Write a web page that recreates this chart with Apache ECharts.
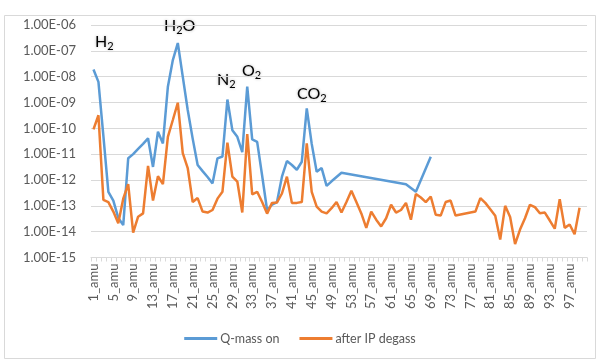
<!DOCTYPE html>
<html><head><meta charset="utf-8">
<script src="https://cdn.jsdelivr.net/npm/echarts@6/dist/echarts.min.js"></script>
<style>html,body{margin:0;padding:0;background:#fff}#c{width:600px;height:362px}</style>
</head><body><div id="c"></div>
<script>
// categories 1_amu .. 100_amu
const categories = [];
for (let i = 1; i <= 100; i++) categories.push(i + '_amu');

// Q-mass on (amu 1..100), null = no point
const qmassOn = [
 1.9e-8, 6.3e-9, 5e-11, 3.5e-13, 1.6e-13, 3.4e-14, 1.8e-14, 6.9e-12, 1e-11, 1.6e-11,
 2.5e-11, 4.1e-11, 3.2e-12, 7.4e-11, 2.6e-11, 4.1e-9, 4.4e-8, 2.0e-7, 1e-8, 5.1e-10,
 4e-11, 3.8e-12, 2.2e-12, 1.3e-12, 7.4e-13, 6.9e-12, 8.1e-12, 1.3e-9, 8.5e-11, 4.7e-11,
 1.2e-11, 4.1e-9, 3.7e-11, 3.0e-11, 1.5e-12, 6.9e-14, 1.1e-13, 1.4e-13, 1.35e-12, 5.4e-12,
 3.8e-12, 2.5e-12, 5.1e-12, 5.9e-10, 2.5e-11, 2.1e-12, 2.9e-12, 5.9e-13, 8.9e-13, 1.3e-12,
 1.9e-12, null, null, null, null, null, null, null, null, null,
 null, null, null, 6.9e-13, null, 3.5e-13, null, null, 7.9e-12, null,
 null, null, null, null, null, null, null, null, null, null,
 null, null, null, null, null, null, null, null, null, null,
 null, null, null, null, null, null, null, null, null, null
];

// after IP degass (amu 1..100)
const afterDegass = [
 9.1e-11, 3.2e-10, 1.7e-13, 1.4e-13, 6e-14, 2.1e-14, 1.9e-13, 6.9e-13, 9.1e-15, 3.8e-14,
 5.1e-14, 3.5e-12, 1.6e-13, 1.4e-12, 6.9e-13, 4.7e-11, 2.1e-10, 9.8e-10, 1.1e-11, 2.9e-12,
 1.4e-13, 2e-13, 6e-14, 5.5e-14, 6.9e-14, 1.9e-13, 3.5e-13, 2.8e-11, 1.35e-12, 8.7e-13,
 5.5e-14, 6e-11, 2.8e-13, 3.5e-13, 1.4e-13, 5e-14, 1.3e-13, 1.35e-13, 3e-13, 1.35e-12,
 1.3e-13, 1.3e-13, 1.4e-13, 2.6e-11, 3.5e-13, 9.3e-14, 6e-14, 5.1e-14, 8.1e-14, 1.4e-13,
 5.5e-14, 1.4e-13, 3.8e-13, 1.4e-13, 5.1e-14, 1.4e-14, 6e-14, 2.9e-14, 1.6e-14, 3.3e-14,
 1.1e-13, 5.5e-14, 6.9e-14, 1.3e-13, 2.9e-14, 2.9e-13, 2.1e-13, 1.4e-13, 2.3e-13, 4.5e-14,
 4.2e-14, 1.4e-13, 1.6e-13, 4.2e-14, null, null, null, 6e-14, 2e-13, 1.3e-13,
 7.4e-14, 4.1e-14, 5e-15, 1e-13, 3.7e-14, 3.3e-15, 1.2e-14, 3.3e-14, 1.1e-13, 8.9e-14,
 5.2e-14, 5.5e-14, 2.7e-14, 1.3e-14, 1.8e-13, 1.4e-14, 1.9e-14, 7.9e-15, 8.5e-14, null
];

const seriesNames = ['Q-mass on', 'after IP degass'];
const yMin = 1e-15, yMax = 1e-6;

function fmtExp(v) {
  const e = Math.round(Math.log10(v));
  const s = e < 0 ? '-' : '+';
  const a = Math.abs(e);
  return '1.00E' + s + (a < 10 ? '0' + a : a);
}

const chart = echarts.init(document.getElementById('c'), null, {renderer: 'canvas'});
const txtFont = 'Lato, "Open Sans", sans-serif';
const rich = {
  b: {fontSize: 16, fontFamily: txtFont, color: '#000', textShadowColor: 'rgba(0,0,0,0.3)', textShadowBlur: 3},
  s: {fontSize: 11, fontFamily: txtFont, color: '#000', padding: [9, 0, 0, 0], textShadowColor: 'rgba(0,0,0,0.3)', textShadowBlur: 3}
};
function ann(x, y, main, sub, tail) {
  return {type: 'text', left: x, top: y, style: {
    text: '{b|' + main + '}{s|' + sub + '}' + (tail ? '{b|' + tail + '}' : ''),
    rich: rich, fill: '#000'
  }};
}
chart.setOption({
  animation: false,
  backgroundColor: '#fff',
  grid: {left: 91, right: 13, top: 25, bottom: 104.5, containLabel: false},
  legend: {
    bottom: 12, left: 'center', itemWidth: 33, itemHeight: 3, itemGap: 20,
    icon: 'rect',
    textStyle: {fontSize: 12.5, color: '#595959', fontFamily: txtFont, padding: [0, 0, 0, -2]},
    data: seriesNames
  },
  xAxis: {
    type: 'category', data: categories, boundaryGap: true,
    axisLine: {lineStyle: {color: '#D9D9D9', width: 1}},
    axisTick: {show: true, interval: 0, length: 4, lineStyle: {color: '#D9D9D9'}},
    axisLabel: {interval: 3, rotate: 90, fontSize: 13, color: '#595959', fontFamily: txtFont, margin: 6}
  },
  yAxis: {
    type: 'log', logBase: 10, min: yMin, max: yMax, interval: 1,
    axisLine: {show: false}, axisTick: {show: false},
    splitLine: {lineStyle: {color: '#D9D9D9', width: 1}},
    axisLabel: {formatter: fmtExp, fontSize: 13, color: '#595959', fontFamily: txtFont, margin: 15}
  },
  series: [
    {name: seriesNames[0], type: 'line', data: qmassOn, connectNulls: true, showSymbol: false, symbol: 'none',
     lineStyle: {color: '#5B9BD5', width: 2.5}, itemStyle: {color: '#5B9BD5'}},
    {name: seriesNames[1], type: 'line', data: afterDegass, connectNulls: true, showSymbol: false, symbol: 'none',
     lineStyle: {color: '#ED7D31', width: 2.5}, itemStyle: {color: '#ED7D31'}}
  ],
  graphic: [
    {type: 'rect', shape: {x: 4.5, y: 15.5, width: 591, height: 343}, style: {fill: 'none', stroke: '#D9D9D9', lineWidth: 1}, silent: true},
    ann(95, 34, 'H', '2'),
    ann(164, 18, 'H', '2', 'O'),
    ann(217, 72, 'N', '2'),
    ann(242, 63, 'O', '2'),
    ann(297, 86, 'CO', '2')
  ]
});
</script></body></html>
